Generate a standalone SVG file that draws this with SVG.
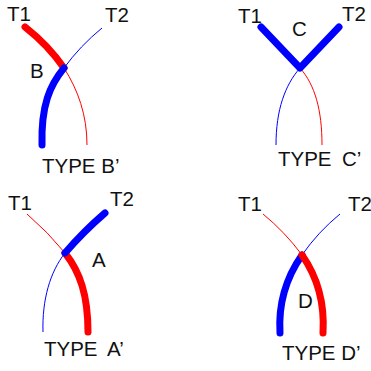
<svg xmlns="http://www.w3.org/2000/svg" width="371" height="371" viewBox="0 0 371 371">
<style>
text{font-family:"Liberation Sans",Arial,sans-serif;font-size:20.5px;fill:#111}
.tk{fill:none;stroke-width:7;stroke-linecap:round}
.tn{fill:none;stroke-width:1}
.r{stroke:#ff0000}
.b{stroke:#0000ff}
</style>
<rect width="371" height="371" fill="#fff"/>
<g id="typeB">
<g class="connectors">
<path class="tn b" d="M64,68 Q80,46 102,28"/>
<path class="tn r" d="M64,68 C78,90 87,115 87,145"/>
<path class="tk r" d="M25,27 Q48,45 64,68"/>
<path class="tk b" d="M64,68 C50,85 41,105 42,145"/>
</g>
<text x="7" y="21">T1</text>
<text x="105" y="22">T2</text>
<text x="30" y="78">B</text>
<text x="42" y="173">TYPE B’</text>
</g>
<g id="typeC">
<g class="connectors">
<path class="tn b" d="M300,68 C285,85 276,110 276,145"/>
<path class="tn r" d="M300,68 C315,85 322,110 322,145"/>
<path class="tk b" d="M261,27 L300,68 L339,27" stroke-linejoin="round"/>
</g>
<text x="238" y="23">T1</text>
<text x="342" y="21">T2</text>
<text x="292" y="36">C</text>
<text x="278" y="166">TYPE</text>
<text x="342" y="166">C’</text>
</g>
<g id="typeA">
<g class="connectors">
<path class="tn r" d="M27,214 Q48,232 65,253"/>
<path class="tn b" d="M65,253 C50,272 42,300 43,332"/>
<path class="tk r" d="M65,253 C80,272 88,295 88,332"/>
<path class="tk b" d="M65,253 Q84,231 105,213"/>
</g>
<text x="8" y="210">T1</text>
<text x="110" y="206">T2</text>
<text x="92" y="267">A</text>
<text x="44" y="356">TYPE</text>
<text x="107" y="356">A’</text>
</g>
<g id="typeD">
<g class="connectors">
<path class="tn r" d="M263,214 Q285,232 302,255"/>
<path class="tn b" d="M302,255 Q318,232 340,214"/>
<path class="tk b" d="M302,255 C288,275 278,300 280,333"/>
<path class="tk r" d="M302,255 C316,275 325,300 323,333"/>
</g>
<text x="238" y="211">T1</text>
<text x="348" y="211">T2</text>
<text x="298" y="308">D</text>
<text x="282" y="360">TYPE D’</text>
</g>
</svg>
